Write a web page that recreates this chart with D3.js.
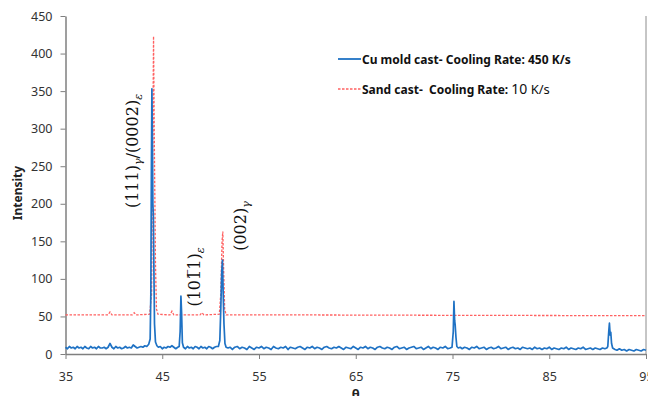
<!doctype html>
<html>
<head>
  <meta charset="utf-8">
  <script src="https://d3js.org/d3.v7.min.js"></script>
  <style>
    body { margin: 0; background: #fff; }
    text { font-family: "Noto Sans", "Open Sans", sans-serif; }
  </style>
</head>
<body>
<script>

  // Cu mold cast, cooling rate 450 K/s  [2theta, intensity]
  var cuMold = [
    [35.0,9],[35.2,7],[35.4,10],[35.6,8],[35.8,9],[36.0,7],[36.2,10],[36.4,8],[36.6,9],[36.8,7],
    [37.0,10],[37.2,8],[37.4,7],[37.6,10],[37.8,8],[38.0,9],[38.2,7],[38.4,10],[38.6,8],[38.8,8],
    [39.0,9],[39.2,7],[39.4,9],[39.6,14],[39.8,9],[40.0,7],[40.2,10],[40.4,8],[40.6,9],[40.8,7],
    [41.0,8],[41.2,10],[41.4,8],[41.6,9],[41.8,8],[42.0,12],[42.2,10],[42.4,8],[42.6,9],[42.8,10],
    [43.0,9],[43.2,11],[43.4,10],[43.6,13],[43.75,20],[43.82,80],[43.88,250],[43.93,353],[43.98,290],
    [44.03,200],[44.08,185],[44.13,120],[44.2,40],[44.3,16],[44.45,11],[44.6,9],[44.8,10],[45.0,7],
    [45.2,9],[45.4,8],[45.6,10],[45.8,9],[46.0,11],[46.2,9],[46.4,7],[46.6,9],[46.75,10],[46.85,30],
    [46.93,77],[47.0,55],[47.08,15],[47.2,9],[47.4,7],[47.6,10],[47.8,8],[48.0,9],[48.2,7],[48.4,10],
    [48.6,9],[48.8,7],[49.0,10],[49.2,8],[49.4,9],[49.6,7],[49.8,10],[50.0,9],[50.2,7],[50.4,9],
    [50.6,10],[50.8,10],[50.95,18],[51.05,60],[51.15,110],[51.22,125],[51.3,80],[51.38,40],[51.48,14],
    [51.6,9],[51.8,8],[52.0,9],[52.25,6],[52.5,9],[52.75,10],[53.0,7],[53.25,9],[53.5,8],[53.75,6],
    [54.0,10],[54.25,8],[54.5,6],[54.75,9],[55.0,8],[55.25,10],[55.5,7],[55.75,9],[56.0,8],[56.25,6],
    [56.5,10],[56.75,8],[57.0,7],[57.25,9],[57.5,8],[57.75,10],[58.0,6],[58.25,9],[58.5,8],[58.75,7],
    [59.0,9],[59.25,10],[59.5,8],[59.75,6],[60.0,9],[60.25,8],[60.5,10],[60.75,7],[61.0,9],[61.25,8],
    [61.5,6],[61.75,9],[62.0,10],[62.25,8],[62.5,7],[62.75,9],[63.0,8],[63.25,10],[63.5,8],[63.75,6],
    [64.0,9],[64.25,8],[64.5,7],[64.75,10],[65.0,8],[65.25,6],[65.5,9],[65.75,8],[66.0,10],[66.25,7],
    [66.5,9],[66.75,8],[67.0,6],[67.25,9],[67.5,10],[67.75,8],[68.0,7],[68.25,9],[68.5,8],[68.75,6],
    [69.0,9],[69.25,10],[69.5,7],[69.75,8],[70.0,9],[70.25,6],[70.5,8],[70.75,9],[71.0,10],[71.25,7],
    [71.5,8],[71.75,9],[72.0,6],[72.25,8],[72.5,10],[72.75,7],[73.0,9],[73.25,8],[73.5,6],[73.75,9],
    [74.0,8],[74.25,10],[74.5,7],[74.75,8],[74.95,9],[75.08,30],[75.15,70],[75.22,45],[75.28,38],
    [75.36,22],[75.45,10],[75.6,8],[75.8,9],[76.0,7],[76.25,9],[76.5,8],[76.75,6],[77.0,9],[77.25,8],
    [77.5,10],[77.75,7],[78.0,8],[78.25,9],[78.5,6],[78.75,8],[79.0,9],[79.25,7],[79.5,8],[79.75,10],
    [80.0,7],[80.25,8],[80.5,9],[80.75,6],[81.0,8],[81.25,9],[81.5,7],[81.75,8],[82.0,6],[82.25,9],
    [82.5,8],[82.75,7],[83.0,8],[83.25,6],[83.5,9],[83.75,7],[84.0,8],[84.25,6],[84.5,8],[84.75,7],
    [85.0,9],[85.25,6],[85.5,8],[85.75,7],[86.0,6],[86.25,8],[86.5,7],[86.75,9],[87.0,6],[87.25,8],
    [87.5,7],[87.75,6],[88.0,8],[88.25,7],[88.5,9],[88.75,6],[89.0,7],[89.25,8],[89.5,6],[89.75,8],
    [90.0,7],[90.25,6],[90.5,8],[90.75,7],[90.95,8],[91.05,10],[91.15,30],[91.22,41],[91.3,25],
    [91.36,29],[91.44,14],[91.55,8],[91.8,6],[92.0,5],[92.25,7],[92.5,5],[92.75,6],[93.0,4],[93.25,6],
    [93.5,5],[93.75,4],[94.0,6],[94.25,5],[94.5,4],[94.75,6],[95.0,5]
  ];

  // Sand cast, cooling rate 10 K/s  [2theta, intensity]
  var sandCast = [
    [35.0,52],[39.4,52],[39.6,56],[39.8,52],[41.9,52],[42.1,55],[42.3,52],[43.7,53],
    [43.9,80],[44.0,250],[44.1,423],[44.17,300],[44.23,215],[44.3,120],[44.4,60],[44.55,53],
    [45.8,52],[46.0,57],[46.2,52],[48.9,52],[49.1,55],[49.3,52],[50.9,53],[51.05,80],
    [51.18,150],[51.26,163],[51.35,110],[51.45,60],[51.6,52],[60.0,52],[75.0,51.5],[95.0,51]
  ];

  var xTicks = [35, 45, 55, 65, 75, 85, 95];
  var yTicks = [0, 50, 100, 150, 200, 250, 300, 350, 400, 450];

  var width = 648, height = 396;
  var plotL = 65.5, plotR = 646, plotT = 16, plotB = 354;

  var svg = d3.select("body")
      .append("svg")
      .attr("width", width)
      .attr("height", height);

  var x = d3.scaleLinear().domain([35, 95]).range([plotL, plotR]);
  var y = d3.scaleLinear().domain([0, 450]).range([plotB, plotT]);

  // axes
  var xAxis = svg.append("g")
      .attr("transform", "translate(0," + plotB + ")")
      .call(d3.axisBottom(x).tickValues(xTicks).tickSize(5).tickPadding(13).tickSizeOuter(0));

  var yAxis = svg.append("g")
      .attr("transform", "translate(" + plotL + ",0)")
      .call(d3.axisLeft(y).tickValues(yTicks).tickSize(5).tickPadding(8).tickSizeOuter(0));

  [xAxis, yAxis].forEach(function (a) {
    a.select(".domain").attr("stroke", "#7f7f7f").attr("stroke-width", 1.5);
    a.selectAll(".tick line").attr("stroke", "#7f7f7f");
    a.selectAll(".tick text")
        .attr("font-size", 12.5)
        .attr("fill", "#333")
        .style("font-family", "'Noto Sans', sans-serif");
  });

  // right border of plot area
  svg.append("line")
      .attr("x1", plotR).attr("x2", plotR)
      .attr("y1", plotT).attr("y2", plotB)
      .attr("stroke", "#8c8c8c")
      .attr("stroke-width", 1);

  // series
  var line = d3.line()
      .x(function (d) { return x(d[0]); })
      .y(function (d) { return y(d[1]); });

  svg.append("path")
      .datum(sandCast)
      .attr("d", line)
      .attr("fill", "none")
      .attr("stroke", "#ff6161")
      .attr("stroke-width", 1.3)
      .attr("stroke-dasharray", "2.5,1.5");

  svg.append("path")
      .datum(cuMold)
      .attr("d", line)
      .attr("fill", "none")
      .attr("stroke", "#1f72c4")
      .attr("stroke-width", 1.7)
      .attr("stroke-linejoin", "round");

  // axis titles
  svg.append("text")
      .attr("transform", "translate(22," + ((plotT + plotB) / 2 + 8) + ") rotate(-90)")
      .attr("text-anchor", "middle")
      .attr("font-size", 12)
      .attr("font-weight", "bold")
      .attr("fill", "#222")
      .text("Intensity");

  svg.append("text")
      .attr("x", (plotL + plotR) / 2)
      .attr("y", 399)
      .attr("text-anchor", "middle")
      .attr("font-size", 13)
      .attr("font-weight", "bold")
      .attr("fill", "#222")
      .text("θ");

  // peak labels (rotated)
  function peakLabel(cx, cy, parts) {
    var t = svg.append("text")
        .attr("transform", "translate(" + cx + "," + cy + ") rotate(-90)")
        .attr("text-anchor", "middle")
        .attr("font-size", 16)
        .attr("fill", "#111")
        .style("font-family", "'DejaVu Serif', 'Liberation Serif', serif");
    parts.forEach(function (p) {
      var s = t.append("tspan").text(p.t);
      if (p.sub) {
        s.attr("font-size", 11).attr("font-style", "italic").attr("dy", 4);
      } else if (p.back) {
        s.attr("dy", -4);
      }
    });
  }

  peakLabel(138, 151, [
    {t: "(111)"}, {t: "γ", sub: true}, {t: "/(0002)", back: true}, {t: "ε", sub: true}
  ]);
  peakLabel(200, 277, [
    {t: "(101\u03051)"}, {t: "ε", sub: true}
  ]);
  peakLabel(246, 226, [
    {t: "(002)"}, {t: "γ", sub: true}
  ]);

  // legend
  var legend = svg.append("g");
  legend.append("line")
      .attr("x1", 338).attr("x2", 361).attr("y1", 59).attr("y2", 59)
      .attr("stroke", "#1f72c4").attr("stroke-width", 1.8);
  legend.append("text")
      .attr("x", 362).attr("y", 64)
      .attr("font-size", 12).attr("font-weight", "bold").attr("fill", "#111")
      .text("Cu mold cast- Cooling Rate: 450 K/s");

  legend.append("line")
      .attr("x1", 338).attr("x2", 361).attr("y1", 89).attr("y2", 89)
      .attr("stroke", "#ff6161").attr("stroke-width", 1.3)
      .attr("stroke-dasharray", "2.5,1.5");
  var lt = legend.append("text")
      .attr("x", 362).attr("y", 94)
      .attr("font-size", 12).attr("fill", "#111");
  lt.append("tspan").attr("font-weight", "bold").text("Sand cast-\u00a0 Cooling Rate: ");
  lt.append("tspan").attr("font-size", 14).text("10");
  lt.append("tspan").attr("font-size", 13).text(" K/s");

</script>
</body>
</html>
